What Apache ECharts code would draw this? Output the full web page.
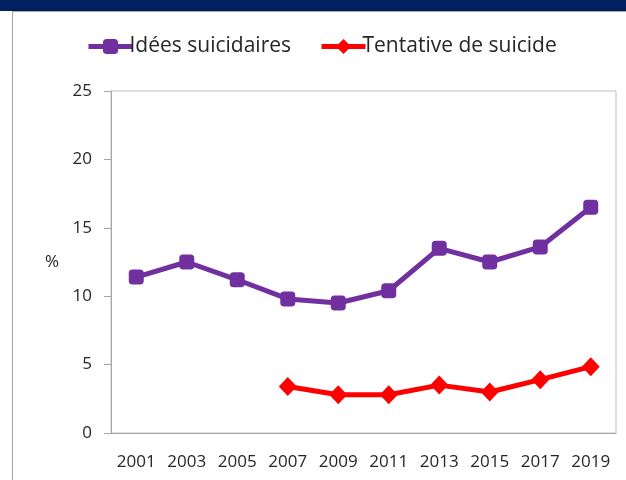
<!DOCTYPE html>
<html>
<head>
<meta charset="utf-8">
<script src="https://cdn.jsdelivr.net/npm/echarts@6/dist/echarts.min.js"></script>
<style>
html,body{margin:0;padding:0;background:#fff;}
#chart{width:626px;height:480px;}
</style>
</head>
<body>
<div id="chart"></div>
<script>
var years = ['2001','2003','2005','2007','2009','2011','2013','2015','2017','2019'];
var ideesSuicidaires = [11.4, 12.5, 11.2, 9.8, 9.5, 10.4, 13.5, 12.5, 13.6, 16.5];
var tentativeSuicide = [null, null, null, 3.4, 2.8, 2.8, 3.5, 3.0, 3.9, 4.85];
var yTicks = [0, 5, 10, 15, 20, 25];

var chart = echarts.init(document.getElementById('chart'), null, {renderer:'canvas'});
var font = 'Open Sans';
chart.setOption({
  animation: false,
  backgroundColor: '#ffffff',
  graphic: [
    {type:'rect', shape:{x:0,y:0,width:626,height:11}, style:{fill:'#002060'}, z:10},
    {type:'line', shape:{x1:12,y1:11.5,x2:626,y2:11.5}, style:{stroke:'#a6a6a6',lineWidth:1}, z:10},
    {type:'line', shape:{x1:12.5,y1:11,x2:12.5,y2:480}, style:{stroke:'#a6a6a6',lineWidth:1}, z:10}
  ],
  legend: {
    left: 81,
    top: 31,
    itemWidth: 44,
    itemHeight: 19,
    itemGap: 28,
    lineStyle: {width: 5},
    textStyle: {fontFamily: font, fontSize: 21, color: '#262626', padding:[0,0,0,-8]},
    data: ['Idées suicidaires', 'Tentative de suicide']
  },
  grid: {
    left: 111, right: 10, top: 91, bottom: 47,
    show: true, borderColor: '#bfbfbf', borderWidth: 1,
    containLabel: false
  },
  xAxis: {
    type: 'category',
    data: years,
    boundaryGap: true,
    axisLine: {lineStyle: {color: '#a6a6a6', width: 1}},
    axisTick: {alignWithLabel: true, length: 5, lineStyle: {color: '#a6a6a6'}},
    axisLabel: {fontFamily: font, fontSize: 17, color: '#262626', margin: 21, interval: 0}
  },
  yAxis: {
    type: 'value',
    min: yTicks[0], max: yTicks[yTicks.length-1], interval: 5,
    name: '%',
    nameLocation: 'middle',
    nameRotate: 0,
    nameGap: 52,
    nameTextStyle: {fontFamily: font, fontSize: 17, color: '#262626'},
    axisLine: {show: true, lineStyle: {color: '#a6a6a6', width: 1}},
    axisTick: {show: true, length: 7, lineStyle: {color: '#a6a6a6'}},
    splitLine: {show: false},
    axisLabel: {fontFamily: font, fontSize: 17, color: '#262626', margin: 19}
  },
  series: [
    {
      name: 'Idées suicidaires',
      type: 'line',
      data: ideesSuicidaires,
      color: '#7030A0',
      lineStyle: {width: 5, color: '#7030A0'},
      symbol: 'roundRect',
      symbolSize: 15,
      itemStyle: {color: '#7030A0'}
    },
    {
      name: 'Tentative de suicide',
      type: 'line',
      data: tentativeSuicide,
      connectNulls: false,
      color: '#FF0000',
      lineStyle: {width: 5, color: '#FF0000'},
      symbol: 'diamond',
      symbolSize: [18, 19],
      itemStyle: {color: '#FF0000'}
    }
  ]
});
</script>
</body>
</html>
